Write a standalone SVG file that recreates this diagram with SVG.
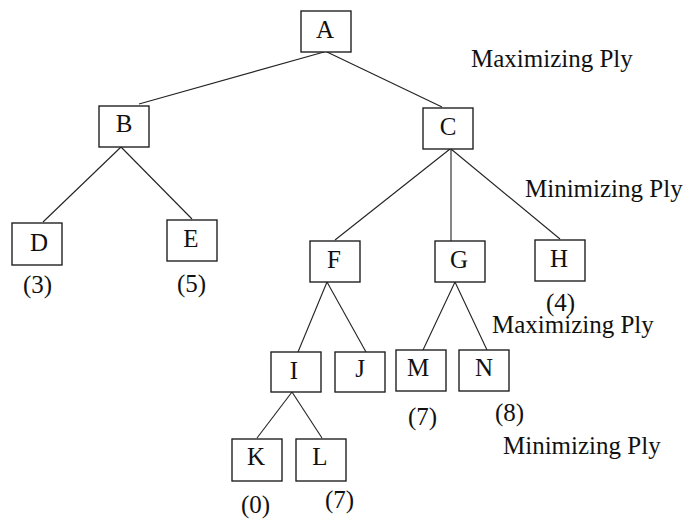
<svg xmlns="http://www.w3.org/2000/svg" width="686" height="521" viewBox="0 0 686 521">
<style>
.box{fill:#fff;stroke:#222;stroke-width:1.4}
.lbl{font-family:"Liberation Serif","Times New Roman",serif;font-size:25px;fill:#111}
.c{text-anchor:middle}
.edge{stroke:#222;stroke-width:1.1;fill:none}
</style>
<rect width="686" height="521" fill="#fff"/>
<g id="connectors">
<line class="edge" x1="324" y1="52" x2="139" y2="104"/>
<line class="edge" x1="327" y1="52" x2="442" y2="107"/>
<line class="edge" x1="121" y1="147" x2="43" y2="222"/>
<line class="edge" x1="121" y1="147" x2="192" y2="219"/>
<line class="edge" x1="450" y1="149" x2="335" y2="240"/>
<line class="edge" x1="451" y1="149" x2="451" y2="241"/>
<line class="edge" x1="451" y1="149" x2="560" y2="239"/>
<line class="edge" x1="327" y1="282" x2="298" y2="352"/>
<line class="edge" x1="327" y1="282" x2="366" y2="352"/>
<line class="edge" x1="455" y1="282" x2="423" y2="350"/>
<line class="edge" x1="455" y1="282" x2="487" y2="350"/>
<line class="edge" x1="292" y1="392" x2="257" y2="438"/>
<line class="edge" x1="292" y1="392" x2="322" y2="438"/>
</g>
<g id="A"><rect class="box" x="301" y="11" width="50" height="41"/><text class="lbl c" x="325" y="38">A</text></g>
<g id="B"><rect class="box" x="99" y="106" width="50" height="41"/><text class="lbl c" x="124" y="132">B</text></g>
<g id="C"><rect class="box" x="423" y="108" width="50" height="41"/><text class="lbl c" x="448" y="135">C</text></g>
<g id="D"><rect class="box" x="12" y="223" width="50" height="42"/><text class="lbl c" x="39" y="251">D</text></g>
<g id="E"><rect class="box" x="167" y="220" width="50" height="41"/><text class="lbl c" x="191" y="247">E</text></g>
<g id="F"><rect class="box" x="310" y="241" width="50" height="41"/><text class="lbl c" x="334" y="268">F</text></g>
<g id="G"><rect class="box" x="435" y="241" width="50" height="41"/><text class="lbl c" x="459" y="268">G</text></g>
<g id="H"><rect class="box" x="535" y="240" width="50" height="41"/><text class="lbl c" x="559" y="267">H</text></g>
<g id="I"><rect class="box" x="271" y="352" width="50" height="40"/><text class="lbl c" x="294" y="379">I</text></g>
<g id="J"><rect class="box" x="335" y="352" width="50" height="40"/><text class="lbl c" x="360" y="377">J</text></g>
<g id="M"><rect class="box" x="396" y="350" width="50" height="41"/><text class="lbl c" x="418" y="376">M</text></g>
<g id="N"><rect class="box" x="459" y="350" width="50" height="41"/><text class="lbl c" x="484" y="376">N</text></g>
<g id="K"><rect class="box" x="232" y="439" width="50" height="42"/><text class="lbl c" x="256" y="465">K</text></g>
<g id="L"><rect class="box" x="296" y="439" width="50" height="42"/><text class="lbl c" x="320" y="465">L</text></g>
<g id="labels">
<text class="lbl" x="471" y="67">Maximizing Ply</text>
<text class="lbl" x="525" y="197">Minimizing Ply</text>
<text class="lbl" x="492" y="333">Maximizing Ply</text>
<text class="lbl" x="503" y="454">Minimizing Ply</text>
<text class="lbl" x="23" y="293">(3)</text>
<text class="lbl" x="177" y="292">(5)</text>
<text class="lbl" x="546" y="311">(4)</text>
<text class="lbl" x="408" y="425">(7)</text>
<text class="lbl" x="495" y="421">(8)</text>
<text class="lbl" x="241" y="513">(0)</text>
<text class="lbl" x="325" y="508">(7)</text>
</g>
</svg>
